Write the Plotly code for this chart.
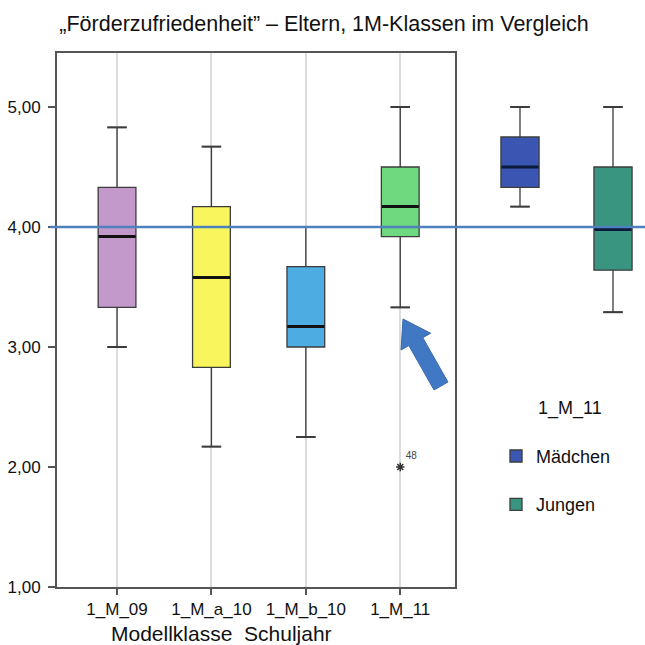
import plotly.graph_objects as go
import math

# ---------------- data ----------------
classes = ["1_M_09", "1_M_a_10", "1_M_b_10", "1_M_11"]
cls_low = [3.00, 2.17, 2.25, 3.33]
cls_q1 = [3.33, 2.83, 3.00, 3.92]
cls_med = [3.92, 3.58, 3.17, 4.17]
cls_q3 = [4.33, 4.17, 3.67, 4.50]
cls_high = [4.83, 4.67, 4.00, 5.00]
cls_colors = ["#C398CB", "#F8F65C", "#4DADE2", "#6ED97E"]

groups = ["Mädchen", "Jungen"]
grp_low = [4.17, 3.29]
grp_q1 = [4.33, 3.64]
grp_med = [4.50, 3.98]
grp_q3 = [4.75, 4.50]
grp_high = [5.00, 5.00]
grp_colors = ["#3A56B2", "#3A9580"]

outlier_cls = ["1_M_11"]
outlier_val = [2.00]
outlier_lbl = ["48"]

reference_value = 4.0
ytick_vals = [1, 2, 3, 4, 5]
ytick_text = ["1,00", "2,00", "3,00", "4,00", "5,00"]

FONT = "Liberation Sans, Arial, sans-serif"
W, H = 645, 645
ML, MR, MT, MB = 57, 0, 53, 58
PW, PH = W - ML - MR, H - MT - MB


def px(x):
    return (x - ML) / PW


def py(y):
    return (H - MB - y) / PH


fig = go.Figure()

LINE = dict(color="#3c3c3c", width=1.3)

for c, lo, q1, me, q3, hi, col in zip(classes, cls_low, cls_q1, cls_med, cls_q3, cls_high, cls_colors):
    fig.add_trace(go.Box(
        x=[c], q1=[q1], median=[me], q3=[q3], lowerfence=[lo], upperfence=[hi],
        fillcolor=col, line=LINE, width=0.40, showlegend=False,
        xaxis="x", yaxis="y", hoverinfo="skip"))

for g, lo, q1, me, q3, hi, col in zip(groups, grp_low, grp_q1, grp_med, grp_q3, grp_high, grp_colors):
    fig.add_trace(go.Box(
        x=[g], q1=[q1], median=[me], q3=[q3], lowerfence=[lo], upperfence=[hi],
        fillcolor=col, line=LINE, width=0.41, name=g, showlegend=True,
        legendgroup=g, xaxis="x2", yaxis="y", hoverinfo="skip"))

# whisker caps (line-ew length = 1.4 * size)
fig.add_trace(go.Scatter(
    x=classes + classes, y=cls_low + cls_high, mode="markers",
    marker=dict(symbol="line-ew", size=14, line=dict(color="#3c3c3c", width=2)),
    showlegend=False, xaxis="x", yaxis="y", hoverinfo="skip"))
fig.add_trace(go.Scatter(
    x=groups + groups, y=grp_low + grp_high, mode="markers",
    marker=dict(symbol="line-ew", size=14, line=dict(color="#3c3c3c", width=2)),
    showlegend=False, xaxis="x2", yaxis="y", hoverinfo="skip"))

# thick median lines
fig.add_trace(go.Scatter(
    x=classes, y=cls_med, mode="markers",
    marker=dict(symbol="line-ew", size=26.5, line=dict(color="#111111", width=3)),
    showlegend=False, xaxis="x", yaxis="y", hoverinfo="skip"))
fig.add_trace(go.Scatter(
    x=groups, y=grp_med, mode="markers",
    marker=dict(symbol="line-ew", size=26.5, line=dict(color="#0a1a3a", width=3)),
    showlegend=False, xaxis="x2", yaxis="y", hoverinfo="skip"))

# outlier
fig.add_trace(go.Scatter(
    x=outlier_cls, y=outlier_val, mode="markers+text", text=outlier_lbl,
    textposition="top right", textfont=dict(size=10, color="#444", family=FONT),
    marker=dict(symbol="asterisk-open", size=7, color="#333",
                line=dict(color="#333", width=1.5)),
    showlegend=False, xaxis="x", yaxis="y", hoverinfo="skip"))

# blue reference line
fig.add_shape(type="line", xref="paper", yref="y", x0=px(50), x1=1,
              y0=reference_value, y1=reference_value,
              line=dict(color="#4F81BD", width=2.5), layer="above")

# arrow (decoration)
tip = (403, 319)
tail = (441, 386)
dx, dy = tail[0] - tip[0], tail[1] - tip[1]
L = math.hypot(dx, dy)
ux, uy = dx / L, dy / L
pxv, pyv = -uy, ux
hl, hw, sw = 26, 17, 8
bx, by = tip[0] + hl * ux, tip[1] + hl * uy
pts = [tip,
       (bx + hw * pxv, by + hw * pyv),
       (bx + sw * pxv, by + sw * pyv),
       (tail[0] + sw * pxv, tail[1] + sw * pyv),
       (tail[0] - sw * pxv, tail[1] - sw * pyv),
       (bx - sw * pxv, by - sw * pyv),
       (bx - hw * pxv, by - hw * pyv)]
path = "M " + " L ".join(f"{px(a):.4f},{py(b):.4f}" for a, b in pts) + " Z"
fig.add_shape(type="path", xref="paper", yref="paper", path=path,
              fillcolor="#4178C3", line=dict(color="#3A6AAE", width=1), layer="above")

# axis title
fig.add_annotation(text="Modellklasse\u00a0 Schuljahr", xref="paper", yref="paper",
                   x=px(221), y=py(633), showarrow=False, xanchor="center", yanchor="middle",
                   font=dict(size=21, family=FONT, color="#111"))

x2_left = px(457)
fig.update_layout(
    width=W, height=H,
    margin=dict(l=ML, r=MR, t=MT, b=MB),
    paper_bgcolor="white", plot_bgcolor="white",
    font=dict(family=FONT, color="#111"),
    title=dict(text="\u201eFörderzufriedenheit\u201d \u2013 Eltern, 1M-Klassen im Vergleich",
               x=324 / W, xref="container", xanchor="center",
               y=1 - 23 / H, yref="container", yanchor="middle",
               font=dict(size=21.5, family=FONT, color="#111")),
    xaxis=dict(domain=[0, px(455)], type="category", categoryorder="array",
               categoryarray=classes, range=[-0.636, 3.58],
               showgrid=True, gridcolor="#dcdcdc", gridwidth=2,
               showline=True, linecolor="#555", linewidth=2, mirror=True,
               ticks="outside", ticklen=6, tickcolor="#555", tickwidth=1.5,
               tickfont=dict(size=17, family=FONT, color="#111"), zeroline=False,
               fixedrange=True),
    xaxis2=dict(domain=[x2_left, 1], type="category", categoryorder="array",
                categoryarray=groups, anchor="y",
                range=[-(520 - 457) / 93, (645 - 520) / 93],
                showgrid=False, showline=False, showticklabels=False, ticks="",
                zeroline=False),
    yaxis=dict(range=[1, 1 + PH / 120], tickvals=ytick_vals, ticktext=ytick_text,
               showgrid=False, zeroline=False,
               showline=True, linecolor="#555", linewidth=2, mirror=True,
               ticks="outside", ticklen=7, tickcolor="#555", tickwidth=1.5,
               tickfont=dict(size=17, family=FONT, color="#111"),
               ticklabelstandoff=4),
    showlegend=True,
    legend=dict(x=px(496), y=py(391), xanchor="left", yanchor="top",
                title=dict(text="\u00a0\u00a0\u00a0\u00a0\u00a0\u00a0\u00a0\u00a01_M_11<br>\u00a0",
                           font=dict(size=18, family=FONT, color="#111")),
                font=dict(size=18, family=FONT, color="#111"),
                tracegroupgap=22, bgcolor="rgba(0,0,0,0)"),
)

fig.write_html("out.html")
